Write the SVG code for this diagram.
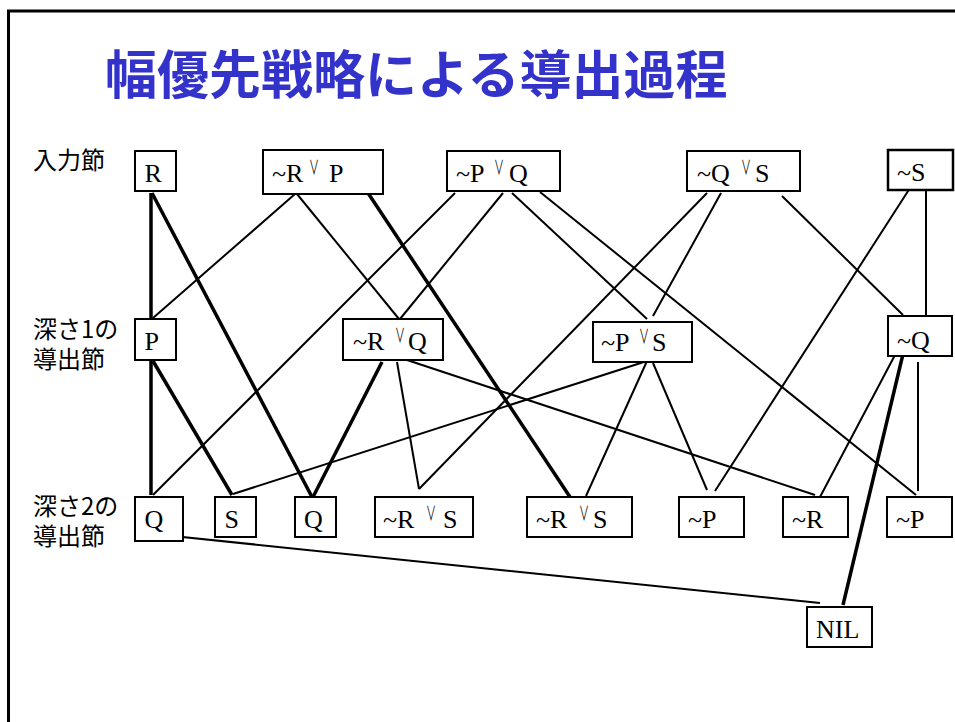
<svg xmlns="http://www.w3.org/2000/svg" width="955" height="722" viewBox="0 0 955 722">
<style>
.frame{fill:none;stroke:#000;stroke-width:3}
.title{font-family:"Noto Sans CJK JP","Noto Sans",sans-serif;font-weight:bold;font-size:52px;fill:#3333cc}
.lab{font-family:"Noto Sans CJK JP","Noto Sans",sans-serif;font-size:24px;fill:#000}
.box{fill:#fff;stroke:#000;stroke-width:2}
.t{font-family:"Liberation Serif","Times New Roman",serif;font-size:26px;fill:#000}
.or{font-family:"Noto Sans CJK JP","DejaVu Sans",sans-serif;font-size:20px;fill:#000}
.thin{stroke:#000;stroke-width:2;fill:none}
.thick{stroke:#000;stroke-width:3.5;fill:none}
</style>
<rect class="frame" x="8.5" y="11" width="960" height="730"/>
<text class="title" x="105" y="94">幅優先戦略による導出過程</text>
<g id="labels">
<text class="lab" x="33" y="169">入力節</text>
<text class="lab"><tspan x="33" y="338">深さ1の</tspan><tspan x="33" y="368">導出節</tspan></text>
<text class="lab"><tspan x="33" y="515">深さ2の</tspan><tspan x="33" y="545">導出節</tspan></text>
</g>
<g id="connectors">
<line class="thin" x1="295" y1="194" x2="153" y2="318"/>
<line class="thin" x1="297" y1="194" x2="399" y2="319"/>
<line class="thin" x1="455" y1="193" x2="153" y2="495"/>
<line class="thin" x1="503" y1="193" x2="400" y2="319"/>
<line class="thin" x1="512" y1="193" x2="647" y2="319"/>
<line class="thin" x1="540" y1="192" x2="916" y2="495"/>
<line class="thin" x1="707" y1="193" x2="419" y2="489"/>
<line class="thin" x1="721" y1="193" x2="653" y2="316"/>
<line class="thin" x1="782" y1="196" x2="903" y2="315"/>
<line class="thin" x1="910" y1="188" x2="715" y2="491"/>
<line class="thin" x1="926" y1="188" x2="926" y2="316"/>
<line class="thin" x1="397" y1="362" x2="419" y2="489"/>
<line class="thin" x1="407" y1="360" x2="815" y2="495"/>
<line class="thin" x1="647" y1="361" x2="233" y2="494"/>
<line class="thin" x1="647" y1="361" x2="586" y2="496"/>
<line class="thin" x1="653" y1="363" x2="707" y2="490"/>
<line class="thin" x1="895" y1="355" x2="820" y2="497"/>
<line class="thin" x1="918" y1="362" x2="918" y2="491"/>
<line class="thin" x1="163" y1="535" x2="820" y2="603"/>
<line class="thick" x1="151" y1="193" x2="151" y2="320"/>
<line class="thick" x1="152" y1="193" x2="312" y2="497"/>
<line class="thick" x1="368" y1="193" x2="570" y2="497"/>
<line class="thick" x1="151" y1="361" x2="151" y2="495"/>
<line class="thick" x1="153" y1="361" x2="232" y2="495"/>
<line class="thick" x1="382" y1="362" x2="313" y2="497"/>
<line class="thick" x1="903" y1="354" x2="843" y2="605"/>
</g>
<g id="n_R"><rect class="box" x="135" y="151" width="41" height="40"/><text class="t" x="144.5" y="182">R</text></g>
<g id="n_RvP"><rect class="box" x="263" y="150" width="120" height="44"/><text class="t" x="272" y="182">~R</text><text class="or" transform="translate(309,175) scale(0.5,1)">∨</text><text class="t" x="329" y="182">P</text></g>
<g id="n_PvQ"><rect class="box" x="447" y="151" width="113" height="40"/><text class="t" x="456" y="182">~P</text><text class="or" transform="translate(494,175) scale(0.5,1)">∨</text><text class="t" x="509" y="182">Q</text></g>
<g id="n_QvS"><rect class="box" x="687" y="151" width="113" height="40"/><text class="t" x="697" y="182">~Q</text><text class="or" transform="translate(741,175) scale(0.5,1)">∨</text><text class="t" x="755" y="182">S</text></g>
<g id="n_nS"><rect class="box" x="888" y="150" width="65" height="40" style="stroke-width:2.5"/><text class="t" x="897" y="181">~S</text></g>
<g id="n_P"><rect class="box" x="135" y="319" width="41" height="41"/><text class="t" x="144.5" y="350">P</text></g>
<g id="n_RvQ"><rect class="box" x="343" y="319" width="100" height="41"/><text class="t" x="353" y="350">~R</text><text class="or" transform="translate(395,343) scale(0.5,1)">∨</text><text class="t" x="408" y="350">Q</text></g>
<g id="n_PvS"><rect class="box" x="593" y="322" width="99" height="40"/><text class="t" x="601" y="351">~P</text><text class="or" transform="translate(639,344) scale(0.5,1)">∨</text><text class="t" x="652" y="351">S</text></g>
<g id="n_nQ"><rect class="box" x="888" y="316" width="64" height="40"/><text class="t" x="897" y="349">~Q</text></g>
<g id="n_Q1"><rect class="box" x="135" y="497" width="48" height="44"/><text class="t" x="144.5" y="528">Q</text></g>
<g id="n_S"><rect class="box" x="215" y="497" width="41" height="40"/><text class="t" x="224.5" y="528">S</text></g>
<g id="n_Q2"><rect class="box" x="295" y="497" width="41" height="40"/><text class="t" x="304" y="528">Q</text></g>
<g id="n_RvS1"><rect class="box" x="375" y="497" width="98" height="40"/><text class="t" x="383" y="528">~R</text><text class="or" transform="translate(426,521) scale(0.5,1)">∨</text><text class="t" x="443" y="528">S</text></g>
<g id="n_RvS2"><rect class="box" x="527" y="497" width="105" height="40"/><text class="t" x="536" y="528">~R</text><text class="or" transform="translate(579,521) scale(0.5,1)">∨</text><text class="t" x="593" y="528">S</text></g>
<g id="n_nP1"><rect class="box" x="679" y="497" width="65" height="40"/><text class="t" x="688" y="528">~P</text></g>
<g id="n_nR"><rect class="box" x="783" y="497" width="65" height="40"/><text class="t" x="792" y="528">~R</text></g>
<g id="n_nP2"><rect class="box" x="887" y="497" width="65" height="40"/><text class="t" x="896" y="528">~P</text></g>
<g id="n_NIL"><rect class="box" x="807" y="607" width="65" height="40"/><text class="t" x="816" y="638">NIL</text></g>
</svg>
